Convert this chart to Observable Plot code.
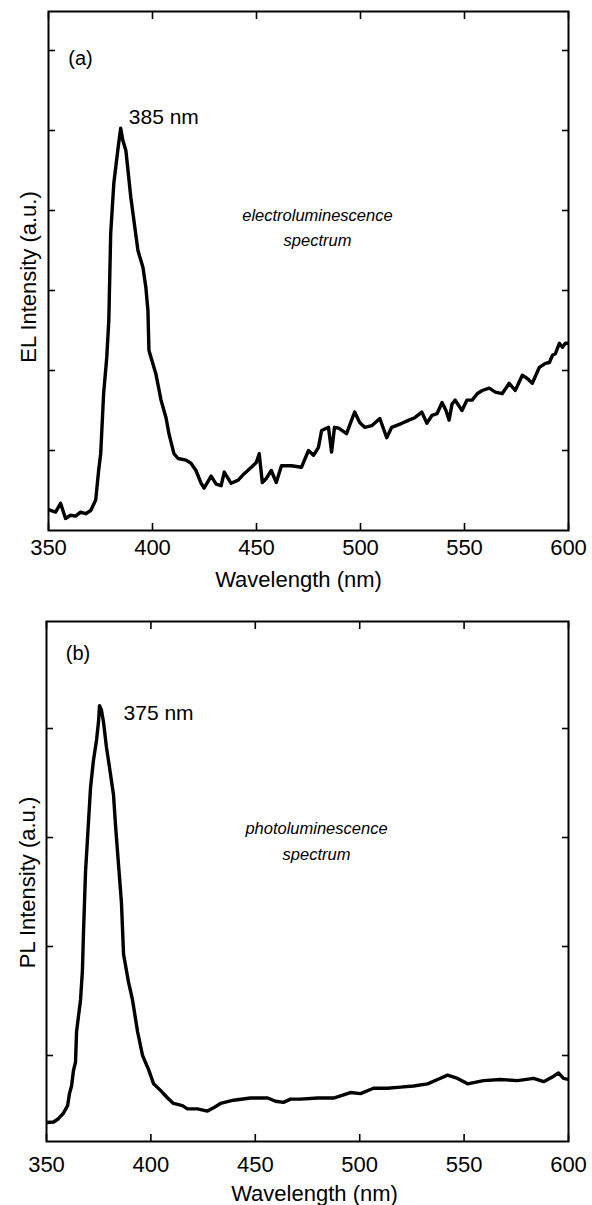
<!DOCTYPE html>
<html><head><meta charset="utf-8">
<script src="https://cdn.jsdelivr.net/npm/d3@7"></script>
<script src="https://cdn.jsdelivr.net/npm/@observablehq/plot@0.6"></script>
<style>html,body{margin:0;padding:0;background:#fff}svg{display:block}</style>
</head><body><div id="chart"></div>
<script>
// ---- Panel (a): electroluminescence ----
const elWavelength = [350,353.4,355.8,358.2,360.6,363,365.4,367.9,370.3,372.7,374.1,375.1,376.5,378,379,379.9,381.4,383.3,384.7,385.7,387.2,389.6,393,395.4,396.8,397.8,398.3,401.6,404.1,406.5,407.9,410.3,412.3,416.1,418.5,420.9,423.4,424.8,428.2,430.6,433,434.5,437.8,441.2,444.1,447.5,449.9,451.3,452.8,454.7,457.1,459.5,462,466.8,471.6,475,477.4,479.8,481.3,484.6,486.1,487.5,489.5,493.3,495.7,497.2,499.6,502,505.4,509.3,512.6,515,519.9,523.3,526.1,529.5,531.9,534.4,536.8,539.2,541.1,542.6,544,545.5,548.8,551.2,553.7,556.1,558.5,561.9,564.8,568.1,571.5,574.4,577.8,580.2,582.6,586,588.9,590.8,592.3,593.7,595.6,597.1,598.5,600];
const elIntensity = [0.26,0.23,0.34,0.15,0.19,0.18,0.23,0.21,0.25,0.38,0.75,0.96,1.71,2.16,2.63,3.71,4.34,4.75,5.03,4.88,4.75,4.16,3.5,3.29,3.04,2.75,2.25,1.96,1.63,1.41,1.21,0.96,0.9,0.88,0.84,0.75,0.59,0.53,0.68,0.58,0.56,0.73,0.59,0.63,0.71,0.79,0.85,0.96,0.6,0.65,0.75,0.6,0.81,0.81,0.79,1,0.94,1.04,1.25,1.29,0.98,1.29,1.28,1.21,1.38,1.48,1.35,1.29,1.31,1.4,1.16,1.29,1.34,1.38,1.41,1.48,1.34,1.44,1.46,1.6,1.5,1.38,1.58,1.63,1.5,1.63,1.63,1.71,1.75,1.78,1.73,1.71,1.84,1.75,1.94,1.9,1.84,2.04,2.09,2.1,2.19,2.21,2.34,2.29,2.34,2.34];
// ---- Panel (b): photoluminescence ----
const plWavelength = [350,353.4,355.7,358.1,360.1,361,362,362.9,363.9,364.4,366.3,367.2,367.7,368.7,370.1,371.1,372.5,374,374.9,375.4,376.3,377.3,378.7,380.2,382.1,383.1,384.5,385.9,386.9,389.3,391.2,393.6,396,398.9,401.3,404.6,408,410.8,415.1,417.5,422.3,427.1,430,433.3,439.6,447.7,455.9,459.7,463.5,466.9,471.7,479.8,487.5,495.6,500.4,506.6,513.3,519.6,525.8,532.5,537.3,542.1,546.9,551.7,559.3,567.5,575.6,583.3,588.1,592.9,595.2,597.6,600];
const plIntensity = [0.385,0.39,0.42,0.47,0.54,0.65,0.72,0.86,0.94,1.22,1.51,1.78,2.12,2.69,3.14,3.46,3.71,3.9,4.06,4.21,4.17,4.06,3.83,3.64,3.39,3.1,2.75,2.4,1.93,1.67,1.51,1.22,1,0.87,0.74,0.68,0.61,0.56,0.54,0.51,0.51,0.49,0.52,0.56,0.59,0.61,0.61,0.58,0.57,0.6,0.6,0.61,0.61,0.66,0.65,0.7,0.7,0.71,0.72,0.74,0.78,0.82,0.79,0.74,0.77,0.78,0.77,0.79,0.76,0.81,0.84,0.79,0.78];

const xTicks = [350, 400, 450, 500, 550, 600];
const elTicks = [1, 2, 3, 4, 5, 6];
const plTicks = [1, 2, 3, 4];
const xTitle = "Wavelength (nm)";
const elYTitle = "EL Intensity (a.u.)";
const plYTitle = "PL Intensity (a.u.)";
const elLabels = [
  {x: 365.4, y: 5.9, text: "(a)", anchor: "middle"},
  {x: 388.6, y: 5.16, text: "385 nm", anchor: "start"}
];
const elItalic = [
  {x: 479.3, y: 3.93, text: "electroluminescence"},
  {x: 479.3, y: 3.62, text: "spectrum"}
];
const plLabels = [
  {x: 365.1, y: 4.69, text: "(b)", anchor: "middle"},
  {x: 386.9, y: 4.14, text: "375 nm", anchor: "start"}
];
const plItalic = [
  {x: 479.3, y: 3.08, text: "photoluminescence"},
  {x: 479.3, y: 2.84, text: "spectrum"}
];

const FONT = "Liberation Sans, Arial, Helvetica, sans-serif";

function panel(cfg) {
  const data = cfg.wl.map((w, i) => ({w, v: cfg.inten[i]}));
  const noTxt = () => "";
  return Plot.plot({
    width: 592,
    height: cfg.height,
    marginTop: cfg.mt, marginBottom: cfg.mb, marginLeft: cfg.ml, marginRight: cfg.mr,
    style: {fontFamily: FONT, fontSize: "22px", color: "black", background: "white"},
    x: {domain: [350, 600]},
    y: {domain: cfg.yDomain},
    marks: [
      Plot.axisX(xTicks, {anchor: "bottom", tickSize: -7, tickFormat: noTxt, label: null, strokeWidth: 1.6}),
      Plot.axisX(xTicks, {anchor: "top", tickSize: -7, tickFormat: noTxt, label: null, strokeWidth: 1.6}),
      Plot.axisY(cfg.yTicks, {anchor: "left", tickSize: -7, tickFormat: noTxt, label: null, strokeWidth: 1.6}),
      Plot.axisY(cfg.yTicks, {anchor: "right", tickSize: -7, tickFormat: noTxt, label: null, strokeWidth: 1.6}),
      Plot.axisX(xTicks, {anchor: "bottom", tickSize: 0, tickPadding: cfg.tp, label: null, fontSize: 22, fill: "black"}),
      Plot.line(data, {x: "w", y: "v", stroke: "black", strokeWidth: 3.4, clip: true}),
      Plot.frame({stroke: "black", strokeWidth: 2}),
      Plot.text([xTitle], {frameAnchor: "bottom", textAnchor: "middle", lineAnchor: "middle", dx: cfg.xtDx, dy: cfg.xtDy, fontSize: 22, fill: "black"}),
      Plot.text([cfg.yTitle], {frameAnchor: "left", textAnchor: "middle", lineAnchor: "middle", dx: cfg.ytDx, dy: cfg.ytDy, rotate: -90, fontSize: 22, fill: "black"}),
      Plot.text(cfg.labels.filter(d => d.anchor === "middle"), {x: "x", y: "y", text: "text", fontSize: 20, textAnchor: "middle", fill: "black"}),
      Plot.text(cfg.labels.filter(d => d.anchor === "start"), {x: "x", y: "y", text: "text", fontSize: 21, textAnchor: "start", fill: "black"}),
      Plot.text(cfg.italic, {x: "x", y: "y", text: "text", fontSize: 16.5, fontStyle: "italic", textAnchor: "middle", fill: "black"})
    ]
  });
}

const a = panel({wl: elWavelength, inten: elIntensity, yDomain: [0, 6.4875], yTicks: elTicks,
  height: 600, mt: 11, mb: 70, ml: 48, mr: 24, tp: 9, xtDx: -10, xtDy: 49.5, ytDx: -20, ytDy: 6,
  yTitle: elYTitle, labels: elLabels, italic: elItalic});
const b = panel({wl: plWavelength, inten: plIntensity, yDomain: [0.211, 4.982], yTicks: plTicks,
  height: 605, mt: 21, mb: 64, ml: 46, mr: 24, tp: 15, xtDx: 7, xtDy: 52, ytDx: -19, ytDy: 1,
  yTitle: plYTitle, labels: plLabels, italic: plItalic});
document.getElementById("chart").append(a, b);
</script>
</body></html>
